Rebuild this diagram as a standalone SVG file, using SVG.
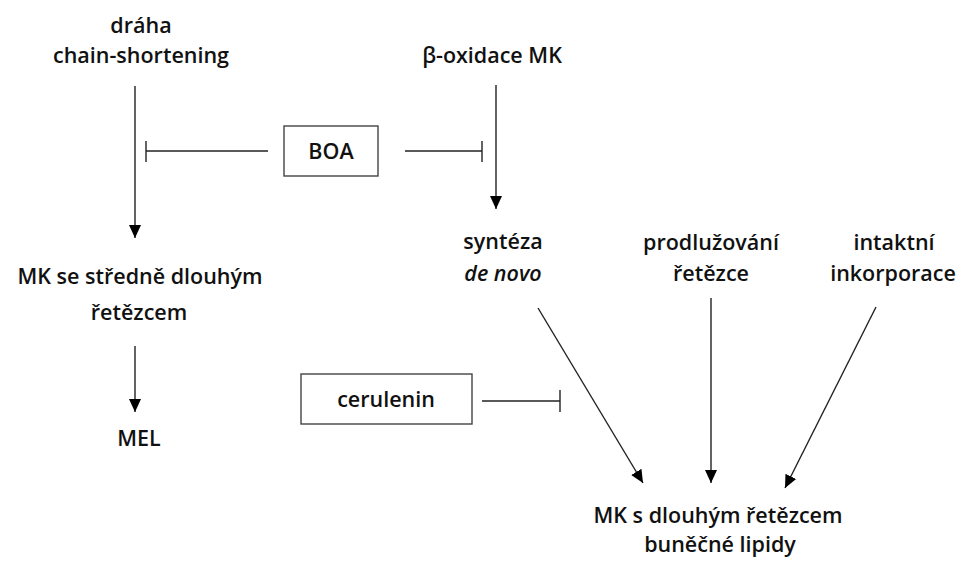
<svg xmlns="http://www.w3.org/2000/svg" width="976" height="561" viewBox="0 0 976 561">
<style>
text{font-family:"Open Sans","Liberation Sans",sans-serif;font-weight:600;font-size:21.5px;fill:#111;text-anchor:middle}
.box{fill:#fff;stroke:#444;stroke-width:1.4}
.ln{stroke:#222;stroke-width:1.4;fill:none}
</style>
<defs>
<marker id="ah" markerUnits="userSpaceOnUse" markerWidth="14" markerHeight="14" viewBox="0 0 14 14" refX="13" refY="7" orient="auto">
<path d="M0,1 L13,7 L0,13 Z" fill="#000"/>
</marker>
</defs>
<rect width="976" height="561" fill="#fff"/>
<g id="n-draha"><text x="141" y="33">dráha</text><text x="141" y="63">chain-shortening</text></g>
<g id="n-boxidace"><text x="492" y="63">β-oxidace MK</text></g>
<g id="n-boa"><rect class="box" x="284" y="126" width="94" height="50"/><text x="331" y="159">BOA</text></g>
<g id="n-mkstred"><text x="140" y="284">MK se středně dlouhým</text><text x="139" y="320">řetězcem</text></g>
<g id="n-mel"><text x="139" y="446">MEL</text></g>
<g id="n-cerulenin"><rect class="box" x="301" y="374" width="171" height="50"/><text x="386" y="407">cerulenin</text></g>
<g id="n-synteza"><text x="503" y="249">syntéza</text><text x="503" y="281" font-style="italic" font-weight="400">de novo</text></g>
<g id="n-prodluz"><text x="711" y="250">prodlužování</text><text x="711" y="281">řetězce</text></g>
<g id="n-intaktni"><text x="894" y="250">intaktní</text><text x="893" y="281">inkorporace</text></g>
<g id="n-mkdlouh"><text x="718" y="523">MK s dlouhým řetězcem</text><text x="720" y="552">buněčné lipidy</text></g>
<g id="connectors">
<line class="ln" x1="135" y1="86" x2="135" y2="238" marker-end="url(#ah)"/>
<line class="ln" x1="496" y1="85" x2="496" y2="209" marker-end="url(#ah)"/>
<line class="ln" x1="135" y1="346" x2="135" y2="412" marker-end="url(#ah)"/>
<line class="ln" x1="711" y1="298" x2="711" y2="483" marker-end="url(#ah)"/>
<line class="ln" x1="538" y1="308" x2="643" y2="483" marker-end="url(#ah)"/>
<line class="ln" x1="876" y1="307" x2="785" y2="488" marker-end="url(#ah)"/>
<line class="ln" x1="268" y1="151" x2="146" y2="151"/>
<line class="ln" x1="146" y1="141" x2="146" y2="162"/>
<line class="ln" x1="405" y1="151" x2="482" y2="151"/>
<line class="ln" x1="482" y1="141" x2="482" y2="162"/>
<line class="ln" x1="482" y1="401" x2="560" y2="401"/>
<line class="ln" x1="560" y1="390" x2="560" y2="412"/>
</g>
</svg>
